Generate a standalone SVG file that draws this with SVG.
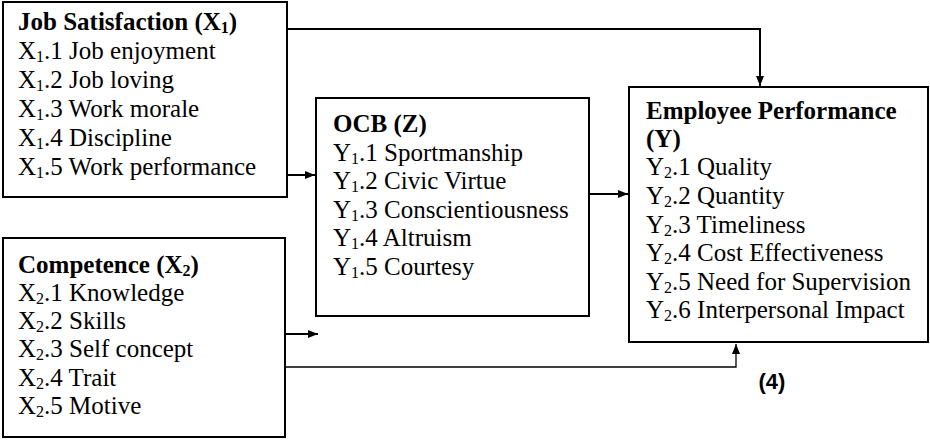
<svg xmlns="http://www.w3.org/2000/svg" width="930" height="440" viewBox="0 0 930 440">
<style>
.box{fill:#fff;stroke:#000;stroke-width:2}
.t{font-family:"Liberation Serif","Times New Roman",serif;font-size:25px;fill:#000}
.b{font-weight:bold}
.s{font-size:16px}
.c{fill:none;stroke:#000;stroke-width:2}
.c1{fill:none;stroke:#000;stroke-width:1.3}
.lbl{font-family:"Liberation Sans",Arial,sans-serif;font-size:22px;font-weight:bold;fill:#000}
</style>
<defs>
<marker id="ah" markerWidth="10" markerHeight="8" refX="10" refY="4" orient="auto" markerUnits="userSpaceOnUse">
<path d="M0,0 L10,4 L0,8 Z" fill="#000"/>
</marker>
</defs>
<rect width="930" height="440" fill="#fff"/>
<g id="connectors">
<path class="c" d="M287,29 H760 V86" marker-end="url(#ah)"/>
<path class="c" d="M287,175 H315" marker-end="url(#ah)"/>
<path class="c" d="M589,194 H628" marker-end="url(#ah)"/>
<path class="c" d="M285,334 H318" marker-end="url(#ah)"/>
<path class="c1" d="M285,367 H736 V344" marker-end="url(#ah)"/>
</g>
<g id="job-satisfaction">
<rect class="box" x="3" y="2" width="284" height="195"/>
<text class="t b" x="18" y="30">Job Satisfaction (X<tspan class="s" dy="3">1</tspan><tspan dy="-3">)</tspan></text>
<text class="t" x="18" y="59">X<tspan class="s" dy="3">1</tspan><tspan dy="-3">.1 Job enjoyment</tspan></text>
<text class="t" x="18" y="88">X<tspan class="s" dy="3">1</tspan><tspan dy="-3">.2 Job loving</tspan></text>
<text class="t" x="18" y="117">X<tspan class="s" dy="3">1</tspan><tspan dy="-3">.3 Work morale</tspan></text>
<text class="t" x="18" y="146">X<tspan class="s" dy="3">1</tspan><tspan dy="-3">.4 Discipline</tspan></text>
<text class="t" x="18" y="175">X<tspan class="s" dy="3">1</tspan><tspan dy="-3">.5 Work performance</tspan></text>
</g>
<g id="ocb">
<rect class="box" x="316" y="98" width="273" height="218"/>
<text class="t b" x="333" y="132">OCB (Z)</text>
<text class="t" x="333" y="161">Y<tspan class="s" dy="3">1</tspan><tspan dy="-3">.1 Sportmanship</tspan></text>
<text class="t" x="333" y="189">Y<tspan class="s" dy="3">1</tspan><tspan dy="-3">.2 Civic Virtue</tspan></text>
<text class="t" x="333" y="218">Y<tspan class="s" dy="3">1</tspan><tspan dy="-3">.3 Conscientiousness</tspan></text>
<text class="t" x="333" y="246">Y<tspan class="s" dy="3">1</tspan><tspan dy="-3">.4 Altruism</tspan></text>
<text class="t" x="333" y="275">Y<tspan class="s" dy="3">1</tspan><tspan dy="-3">.5 Courtesy</tspan></text>
</g>
<g id="employee-performance">
<rect class="box" x="629" y="87" width="299" height="255"/>
<text class="t b" x="646" y="119">Employee Performance</text>
<text class="t b" x="646" y="147">(Y)</text>
<text class="t" x="646" y="175">Y<tspan class="s" dy="3">2</tspan><tspan dy="-3">.1 Quality</tspan></text>
<text class="t" x="646" y="204">Y<tspan class="s" dy="3">2</tspan><tspan dy="-3">.2 Quantity</tspan></text>
<text class="t" x="646" y="233">Y<tspan class="s" dy="3">2</tspan><tspan dy="-3">.3 Timeliness</tspan></text>
<text class="t" x="646" y="261">Y<tspan class="s" dy="3">2</tspan><tspan dy="-3">.4 Cost Effectiveness</tspan></text>
<text class="t" x="646" y="290">Y<tspan class="s" dy="3">2</tspan><tspan dy="-3">.5 Need for Supervision</tspan></text>
<text class="t" x="646" y="318">Y<tspan class="s" dy="3">2</tspan><tspan dy="-3">.6 Interpersonal Impact</tspan></text>
</g>
<g id="competence">
<rect class="box" x="3" y="238" width="282" height="199"/>
<text class="t b" x="18" y="273">Competence (X<tspan class="s" dy="3">2</tspan><tspan dy="-3">)</tspan></text>
<text class="t" x="18" y="301">X<tspan class="s" dy="3">2</tspan><tspan dy="-3">.1 Knowledge</tspan></text>
<text class="t" x="18" y="329">X<tspan class="s" dy="3">2</tspan><tspan dy="-3">.2 Skills</tspan></text>
<text class="t" x="18" y="357">X<tspan class="s" dy="3">2</tspan><tspan dy="-3">.3 Self concept</tspan></text>
<text class="t" x="18" y="386">X<tspan class="s" dy="3">2</tspan><tspan dy="-3">.4 Trait</tspan></text>
<text class="t" x="18" y="414">X<tspan class="s" dy="3">2</tspan><tspan dy="-3">.5 Motive</tspan></text>
</g>
<g id="label-4">
<text class="lbl" x="772" y="389" text-anchor="middle">(4)</text>
</g>
</svg>
